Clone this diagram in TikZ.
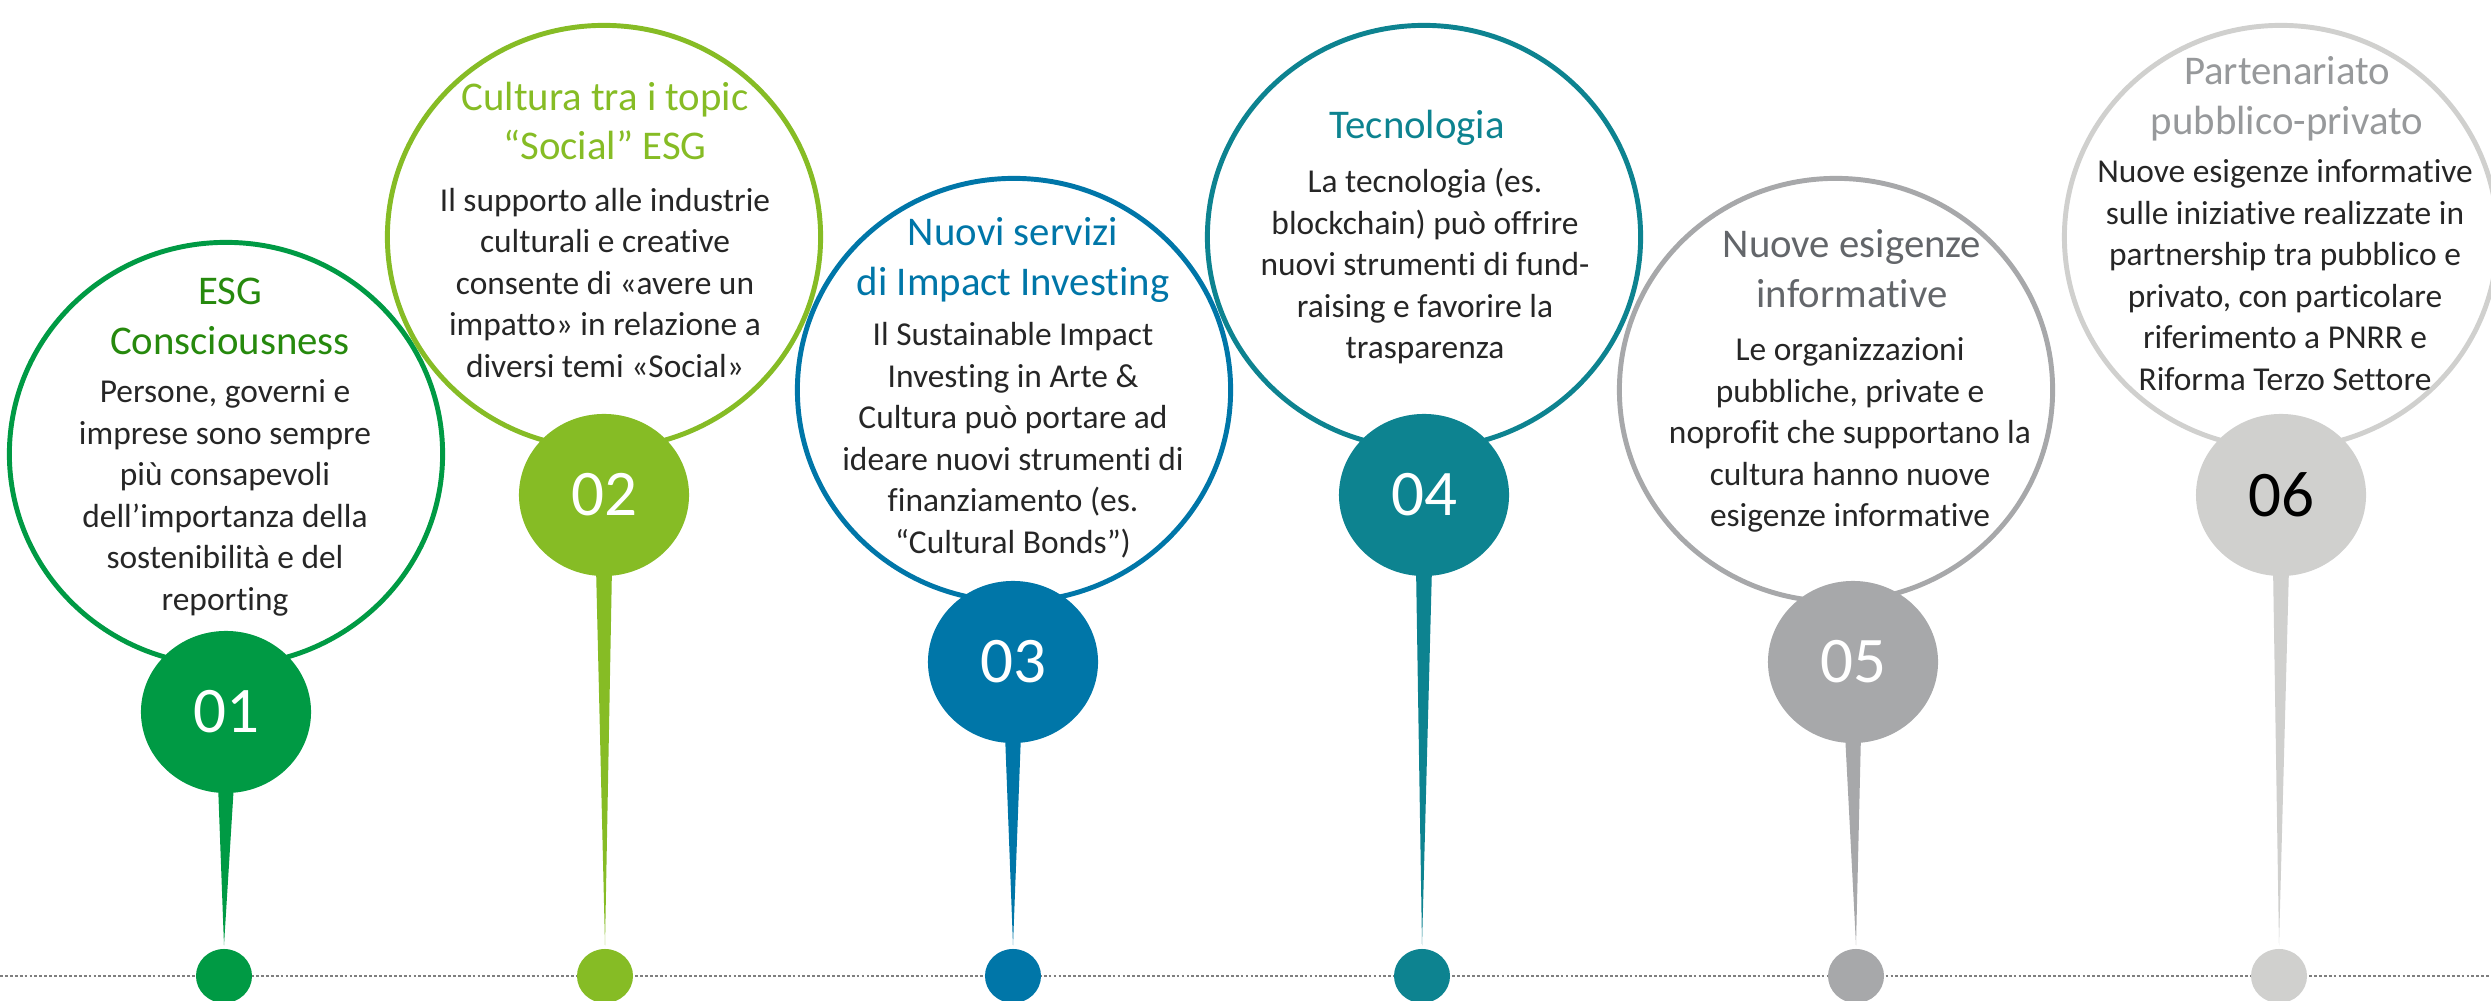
\documentclass[tikz,border=0pt]{standalone}
\usepackage{fontspec}
\setmainfont{Carlito}[Ligatures=NoCommon]
\usetikzlibrary{shapes.geometric, positioning}
\definecolor{esggreen}{HTML}{009A44}
\definecolor{esgtitle}{HTML}{26890D}
\definecolor{limegreen}{HTML}{86BC25}
\definecolor{oceanblue}{HTML}{0076A8}
\definecolor{tealblue}{HTML}{0D8390}
\definecolor{midgrey}{HTML}{A7A8AA}
\definecolor{darktitle}{HTML}{63666A}
\definecolor{palegrey}{HTML}{D0D0CE}
\definecolor{paletitle}{HTML}{97999B}
\definecolor{lineground}{HTML}{7F7F7F}
\tikzset{x=0.01cm, y=-0.01cm,
	bubble/.style={ellipse, draw, line width=1.4pt, minimum width=4.33cm, minimum height=4.23cm, inner sep=0pt},
	badge/.style={ellipse, minimum width=1.70cm, minimum height=1.62cm, inner sep=0pt, text=white, font=\fontsize{18.5}{22}\selectfont},
	pindot/.style={ellipse, minimum width=0.56cm, minimum height=0.54cm, inner sep=0pt},
	headline/.style={align=center, inner sep=0pt, font=\fontsize{11.6}{14.2}\selectfont},
	body/.style={align=center, inner sep=0pt, text=black!85, font=\fontsize{9.5}{11.8}\selectfont},
	timeline/.style={lineground, line width=0.6pt, dash pattern=on 0.8pt off 0.6pt}}

\begin{document}
\begin{tikzpicture}
    \useasboundingbox (0,0) rectangle (2491,1001);
    \coordinate (lineL) at (0,976);
    \coordinate (lineR) at (2491,976);
    \draw[timeline] (lineL) -- (lineR);

    % bubbles
    \node[bubble, esggreen] (e1) at (226,454) {};
    \node[bubble, limegreen] (e2) at (604,237) {};
    \node[bubble, oceanblue] (e3) at (1014,390) {};
    \node[bubble, tealblue] (e4) at (1424,237) {};
    \node[bubble, midgrey] (e5) at (1836,390) {};
    \node[bubble, palegrey] (e6) at (2281,237) {};

    % numbers
    \node[badge, fill=esggreen] (n1) at (226,712) {01};
    \node[badge, fill=limegreen] (n2) at (604,495) {02};
    \node[badge, fill=oceanblue] (n3) at (1013,662) {03};
    \node[badge, fill=tealblue] (n4) at (1424,495) {04};
    \node[badge, fill=midgrey] (n5) at (1853,662) {05};
    \node[badge, fill=palegrey, text=black] (n6) at (2281,495) {06};

    % dots on the line
    \node[pindot, fill=esggreen] (d1) at (224,976) {};
    \node[pindot, fill=limegreen] (d2) at (605,976) {};
    \node[pindot, fill=oceanblue] (d3) at (1013,976) {};
    \node[pindot, fill=tealblue] (d4) at (1422,976) {};
    \node[pindot, fill=midgrey] (d5) at (1856,976) {};
    \node[pindot, fill=palegrey] (d6) at (2279,976) {};

    \foreach \i/\c in {1/esggreen, 2/limegreen, 3/oceanblue, 4/tealblue, 5/midgrey, 6/palegrey}
        \fill[\c] ([xshift=-0.08cm, yshift=0.1cm]n\i.south) -- ([xshift=0.08cm, yshift=0.1cm]n\i.south) -- ([yshift=0.03cm]d\i.north) -- cycle;

    % texts
    \node[headline, esgtitle] (t1) at (230,316) {ESG\\Consciousness};
    \node[body] (b1) at (225,498) {Persone, governi e\\imprese sono sempre\\più consapevoli\\dell’importanza della\\sostenibilità e del\\reporting};
    \node[headline, limegreen] (t2) at (605,121) {Cultura tra i topic\\“Social” ESG};
    \node[body] (b2) at (605,283) {Il supporto alle industrie\\culturali e creative\\consente di «avere un\\impatto» in relazione a\\diversi temi «Social»};
    \node[headline, oceanblue] (t3) at (1013,260) {Nuovi servizi\\di Impact Investing};
    \node[body] (b3) at (1013,440) {Il Sustainable Impact\\Investing in Arte \&\\Cultura può portare ad\\ideare nuovi strumenti di\\finanziamento (es.\\“Cultural Bonds”)};
    \node[headline, tealblue] (t4) at (1417,128) {Tecnologia};
    \node[body] (b4) at (1425,266) {La tecnologia (es.\\blockchain) può offrire\\nuovi strumenti di fund-\\raising e favorire la\\trasparenza};
    \node[headline, darktitle] (t5) at (1852,269) {Nuove esigenze\\informative};
    \node[body] (b5) at (1850,435) {Le organizzazioni\\pubbliche, private e\\noprofit che supportano la\\cultura hanno nuove\\esigenze informative};
    \node[headline, paletitle] (t6) at (2287,99) {Partenariato\\pubblico-privato};
    \node[body] (b6) at (2285,275) {Nuove esigenze informative\\sulle iniziative realizzate in\\partnership tra pubblico e\\privato, con particolare\\riferimento a PNRR e\\Riforma Terzo Settore};
\end{tikzpicture}
\end{document}
